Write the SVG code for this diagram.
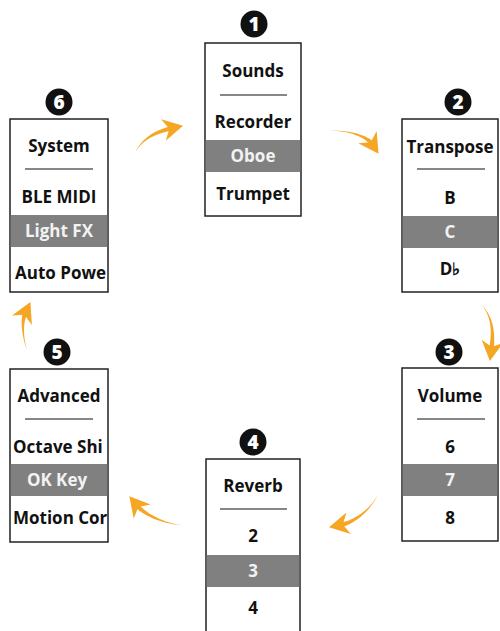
<svg xmlns="http://www.w3.org/2000/svg" width="500" height="631" viewBox="0 0 500 631">
<style>
.box{fill:#fff;stroke:#222;stroke-width:1.5}
.band{fill:#808080}
.sep{stroke:#111;stroke-width:1.2}
.t{font-family:"Open Sans","Noto Sans","Liberation Sans",sans-serif;font-weight:700;font-size:17px;fill:#111;text-anchor:middle}
.tl{text-anchor:start}
.hl{fill:#f2f2f2}
.num{fill:#111}
.nd{font-family:"Open Sans","Liberation Sans",sans-serif;font-weight:800;font-size:19px;fill:#fff;text-anchor:middle}
.arr{fill:none;stroke:none;marker-end:url(#ah)}
.body{fill:#F5A623}
</style>
<defs>
<marker id="ah" markerUnits="userSpaceOnUse" markerWidth="20" markerHeight="22" viewBox="0 0 20 22" refX="19" refY="11" orient="auto">
<path d="M0,0 L20,11 L0,22 L6,11 Z" fill="#F5A623"/>
</marker>
<clipPath id="c6"><rect x="10" y="119" width="98" height="173"/></clipPath>
<clipPath id="c5"><rect x="10" y="369" width="98" height="173"/></clipPath>
</defs>
<rect width="500" height="631" fill="#fff"/>

<g id="connectors">
<path class="body" d="M135,153 C140.2,143.8 150.3,134.5 170.8,130.8 L169.8,126.4 C149.7,131.5 139.8,142.2 135,153 Z"/>
<path class="arr" d="M135,153 C140,143 150,133 182,126"/>
<path class="body" d="M330,131 C351.3,130.4 366.8,138.8 369.4,144.3 L373.2,141.7 C369.2,137.2 352.7,129.6 330,131 Z"/>
<path class="arr" d="M330,131 C352,130 368,138 378,153"/>
<path class="body" d="M480,303 C492.8,315.1 495.5,330.2 493.9,348.4 L489.3,347.8 C492.5,329.8 491.2,314.9 480,303 Z"/>
<path class="arr" d="M480,303 C492,315 494,330 490,360"/>
<path class="body" d="M378,495 C370.2,510.8 355.3,523.5 342.3,526.9 L341.3,522.3 C354.7,520.5 369.8,509.2 378,495 Z"/>
<path class="arr" d="M378,495 C370,510 355,522 330,527"/>
<path class="body" d="M182,525 C165.6,523.5 146.2,514 139.5,504.7 L135.9,507.7 C143.8,516 164.4,524.5 182,525 Z"/>
<path class="arr" d="M182,525 C165,524 145,515 130,497"/>
<path class="body" d="M27,350 C22.7,335.3 23.4,320.6 27,314.9 L22.8,312.9 C20.6,319.4 21.3,334.7 27,350 Z"/>
<path class="arr" d="M27,350 C22,335 22,320 30,303"/>
</g>

<g id="node1">
<circle class="num" cx="254" cy="24" r="13.5"/><text class="nd" x="254" y="31">1</text>
<rect class="box" x="205" y="43" width="96" height="173"/>
<rect class="band" x="205.75" y="140" width="94.5" height="32"/>
<text class="t" x="253" y="77">Sounds</text>
<line class="sep" x1="220" y1="95" x2="287" y2="95"/>
<text class="t" x="253" y="128">Recorder</text>
<text class="t hl" x="253" y="162">Oboe</text>
<text class="t" x="253" y="200">Trumpet</text>
</g>

<g id="node2">
<circle class="num" cx="458" cy="102" r="13.5"/><text class="nd" x="458" y="109">2</text>
<rect class="box" x="402" y="119" width="96" height="173"/>
<rect class="band" x="402.75" y="216" width="94.5" height="32"/>
<text class="t" x="450" y="153">Transpose</text>
<line class="sep" x1="417" y1="169" x2="485" y2="169"/>
<text class="t" x="450" y="204">B</text>
<text class="t hl" x="450" y="238">C</text>
<text class="t" x="450" y="275">D♭</text>
</g>

<g id="node3">
<circle class="num" cx="449" cy="352" r="13.5"/><text class="nd" x="449" y="359">3</text>
<rect class="box" x="402" y="368" width="96" height="173"/>
<rect class="band" x="402.75" y="464" width="94.5" height="32"/>
<text class="t" x="450" y="402">Volume</text>
<line class="sep" x1="417" y1="419" x2="485" y2="419"/>
<text class="t" x="450" y="453">6</text>
<text class="t hl" x="450" y="486">7</text>
<text class="t" x="450" y="524">8</text>
</g>

<g id="node4">
<circle class="num" cx="253" cy="442" r="13.5"/><text class="nd" x="253" y="449">4</text>
<rect class="box" x="206" y="459" width="94" height="185"/>
<rect class="band" x="206.75" y="555" width="92.5" height="32"/>
<text class="t" x="253" y="492">Reverb</text>
<line class="sep" x1="220" y1="509" x2="287" y2="509"/>
<text class="t" x="253" y="542">2</text>
<text class="t hl" x="253" y="577">3</text>
<text class="t" x="253" y="614">4</text>
</g>

<g id="node5">
<circle class="num" cx="57" cy="352" r="13.5"/><text class="nd" x="57" y="359">5</text>
<rect class="box" x="10" y="369" width="98" height="173"/>
<rect class="band" x="10.75" y="464" width="96.5" height="32"/>
<text class="t" x="59" y="402">Advanced</text>
<line class="sep" x1="25" y1="419" x2="93" y2="419"/>
<g clip-path="url(#c5)">
<text class="t tl" x="13" y="453">Octave Shi</text>
<text class="t hl" x="57" y="486">OK Key</text>
<text class="t tl" x="13" y="524">Motion Cor</text>
</g>
</g>

<g id="node6">
<circle class="num" cx="59" cy="102" r="13.5"/><text class="nd" x="59" y="109">6</text>
<rect class="box" x="10" y="119" width="98" height="173"/>
<rect class="band" x="10.75" y="215" width="96.5" height="32"/>
<text class="t" x="59" y="152">System</text>
<line class="sep" x1="25" y1="169" x2="93" y2="169"/>
<text class="t" x="59" y="203">BLE MIDI</text>
<g clip-path="url(#c6)">
<text class="t hl" x="59" y="237">Light FX</text>
<text class="t tl" x="15" y="279">Auto Powe</text>
</g>
</g>
</svg>
